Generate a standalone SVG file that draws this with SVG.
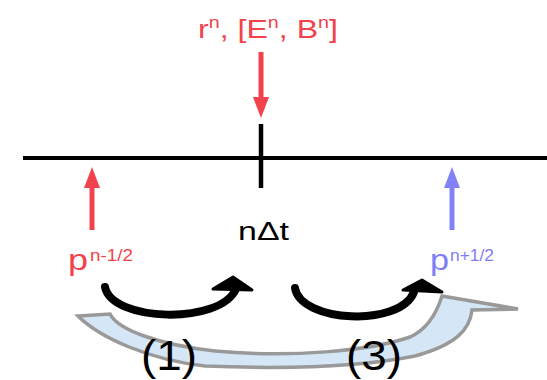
<svg xmlns="http://www.w3.org/2000/svg" width="547" height="380" viewBox="0 0 547 380">
<style>
.t{font-family:"Liberation Sans",Arial,sans-serif}
.red{fill:#f2434d}
.blu{fill:#7f7ff5}
.blk{fill:#000}
.rl{stroke:#f2434d;stroke-width:5;fill:none}
.bl{stroke:#8282f7;stroke-width:5;fill:none}
.axis{stroke:#000;stroke-width:4;fill:none}
.curve{stroke:#000;stroke-width:8;fill:none;stroke-linecap:round}
.head{fill:#000;stroke:#000;stroke-width:3;stroke-linejoin:round}
.band{fill:#d5e7f6;stroke:#999;stroke-width:3.5;stroke-linejoin:miter}
</style>
<defs>
<marker id="ahR" markerUnits="userSpaceOnUse" markerWidth="24" markerHeight="18" refX="0" refY="0" viewBox="0 -9 24 18" orient="auto" overflow="visible"><path d="M0,-8 L21,0 L0,8 z" fill="#f2434d"/></marker>
<marker id="ahB" markerUnits="userSpaceOnUse" markerWidth="24" markerHeight="18" refX="0" refY="0" viewBox="0 -9 24 18" orient="auto" overflow="visible"><path d="M0,-8 L21,0 L0,8 z" fill="#8282f7"/></marker>
</defs>
<g id="band-arrow">
<path class="band" d="M78,316 L110,314 C118,330 160,345 215,351 C290,358 370,351 410,337 C428,329 437,312 442,296 L518,309 L472,310 C470,330 455,345 415,356 C360,367 280,369 205,366 C150,360 100,338 78,316 Z"/>
</g>
<g id="timeline">
<line class="axis" x1="23" y1="158" x2="547" y2="158"/>
<line class="axis" x1="261" y1="124" x2="261" y2="188" style="stroke-width:4.5"/>
</g>
<g id="fields-label">
<text class="t red" x="198" y="38" font-size="26" textLength="140" lengthAdjust="spacingAndGlyphs">r<tspan font-size="16" dy="-10">n</tspan><tspan dy="10">, [E</tspan><tspan font-size="16" dy="-10">n</tspan><tspan dy="10">, B</tspan><tspan font-size="16" dy="-10">n</tspan><tspan dy="10">]</tspan></text>
</g>
<g id="time-label">
<text class="t blk" x="238" y="240" font-size="25" textLength="51" lengthAdjust="spacingAndGlyphs">nΔt</text>
</g>
<g id="p-old">
<text class="t red" x="68" y="270" font-size="30" textLength="20" lengthAdjust="spacingAndGlyphs">p</text>
<text class="t red" x="90" y="261" font-size="17" textLength="43" lengthAdjust="spacingAndGlyphs">n-1/2</text>
</g>
<g id="p-new">
<text class="t blu" x="430" y="270" font-size="30" textLength="19" lengthAdjust="spacingAndGlyphs">p</text>
<text class="t blu" x="450" y="261" font-size="17" textLength="44" lengthAdjust="spacingAndGlyphs">n+1/2</text>
</g>
<g id="connectors">
<line class="rl" x1="261" y1="52" x2="261" y2="97" marker-end="url(#ahR)"/>
<line class="rl" x1="92" y1="230" x2="92" y2="188" marker-end="url(#ahR)"/>
<line class="bl" x1="452" y1="230" x2="452" y2="188" marker-end="url(#ahB)"/>
<path class="curve" d="M105,287 C112,322 220,325 236,289"/>
<polygon class="head" points="213,289 233,277 252,290"/>
<path class="curve" d="M295,288 C300,322 400,328 414,292"/>
<polygon class="head" points="403,290 422,280 442,292"/>
</g>
<g id="step-labels">
<text class="t blk" x="141" y="370" font-size="42" textLength="56" lengthAdjust="spacingAndGlyphs">(1)</text>
<text class="t blk" x="346" y="370" font-size="42" textLength="56" lengthAdjust="spacingAndGlyphs">(3)</text>
</g>
</svg>
